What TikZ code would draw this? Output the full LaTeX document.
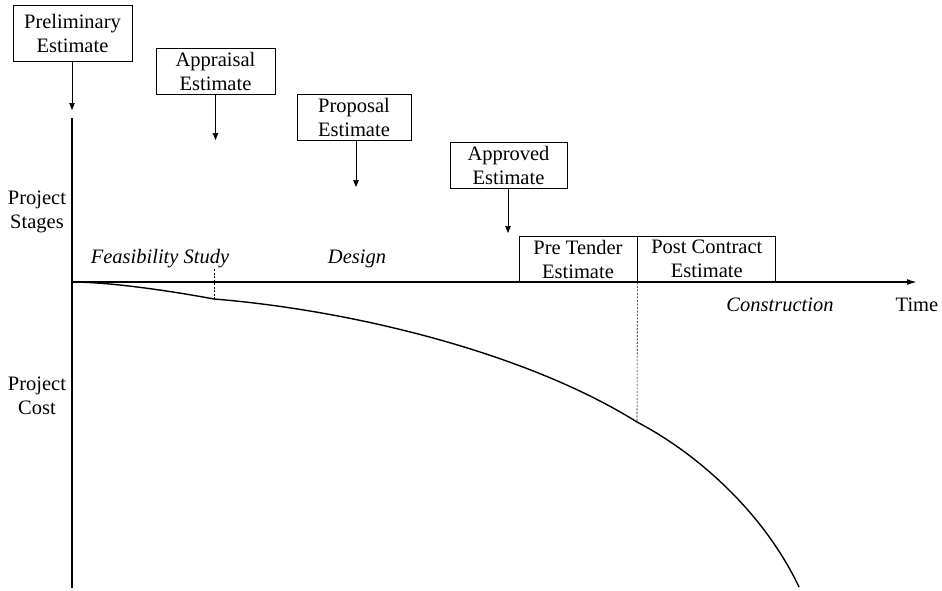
\documentclass[tikz,border=0pt]{standalone}
\usepackage{fontspec}
\setmainfont{Liberation Serif}
\usetikzlibrary{arrows.meta}
\begin{document}
\begin{tikzpicture}[x=1pt,y=-1pt,
  txt/.style={font=\fontsize{20.5}{24}\selectfont, align=center, inner sep=0pt},
  itxt/.style={font=\fontsize{20.5}{24}\selectfont\itshape, inner sep=0pt},
  estbox/.style={txt, draw, line width=0.8pt, minimum height=46pt},
  ptr/.style={line width=0.7pt, -{Triangle[length=7pt,width=5.5pt]}},
  axis/.style={line width=1.8pt},
  guide/.style={line width=0.6pt, dash pattern=on 2pt off 1.5pt},
  costline/.style={line width=1.4pt, line join=round}]
\useasboundingbox (0,0) rectangle (942,590);

% estimate boxes
\node[estbox, minimum width=119pt, minimum height=56pt] (prelim) at (72.5,33) {Preliminary\\Estimate};
\node[estbox, minimum width=119pt] (appr) at (215.5,71) {Appraisal\\Estimate};
\node[estbox, minimum width=114pt] (prop) at (354,117.5) {Proposal\\Estimate};
\node[estbox, minimum width=117pt] (apprv) at (508.5,165) {Approved\\Estimate};
\node[estbox, minimum width=118pt] (pretender) at (578,259) {Pre Tender\\Estimate};
\node[estbox, minimum width=138pt, anchor=west] (post) at (pretender.east) {Post Contract\\Estimate};

% axes
\coordinate (O) at (72,282);
\coordinate (ytop) at (72,118);
\coordinate (ybot) at (72,588);
\coordinate (xend) at (917,282);
\draw[axis] (ytop) -- (ybot);
\draw[line width=1.5pt, -{Latex[length=10pt,width=6pt]}] (O) -- (xend);

% pointer arrows
\coordinate (t1) at (72,110);
\coordinate (t2) at (215.5,140);
\coordinate (t3) at (356,187);
\coordinate (t4) at (508,233);
\draw[ptr] (prelim.south -| t1) -- (t1);
\draw[ptr] (appr.south -| t2) -- (t2);
\draw[ptr] (prop.south -| t3) -- (t3);
\draw[ptr] (apprv.south -| t4) -- (t4);

% dashed guides
\coordinate (k1) at (214,299);
\coordinate (g1) at (214,269);
\coordinate (k2) at (637,422);
\coordinate (cend) at (799,587);
\draw[guide] (g1) -- (k1);
\draw[guide] (pretender.south east) -- (k2);

% cost curve
\draw[costline] (O) .. controls (105,282) and (160,289) .. (k1)
  .. controls (350,310) and (525,352) .. (k2)
  .. controls (700,455) and (765,515) .. (cend);

% labels
\node[txt] (stages) at (37,212) {Project\\Stages};
\node[txt] (cost) at (37,396) {Project\\Cost};
\node[itxt] (feas) at (160,259) {Feasibility Study};
\node[itxt] (design) at (357,259) {Design};
\node[itxt] (constr) at (780,305) {Construction};
\node[txt] (time) at (917,305) {Time};
\end{tikzpicture}
\end{document}
